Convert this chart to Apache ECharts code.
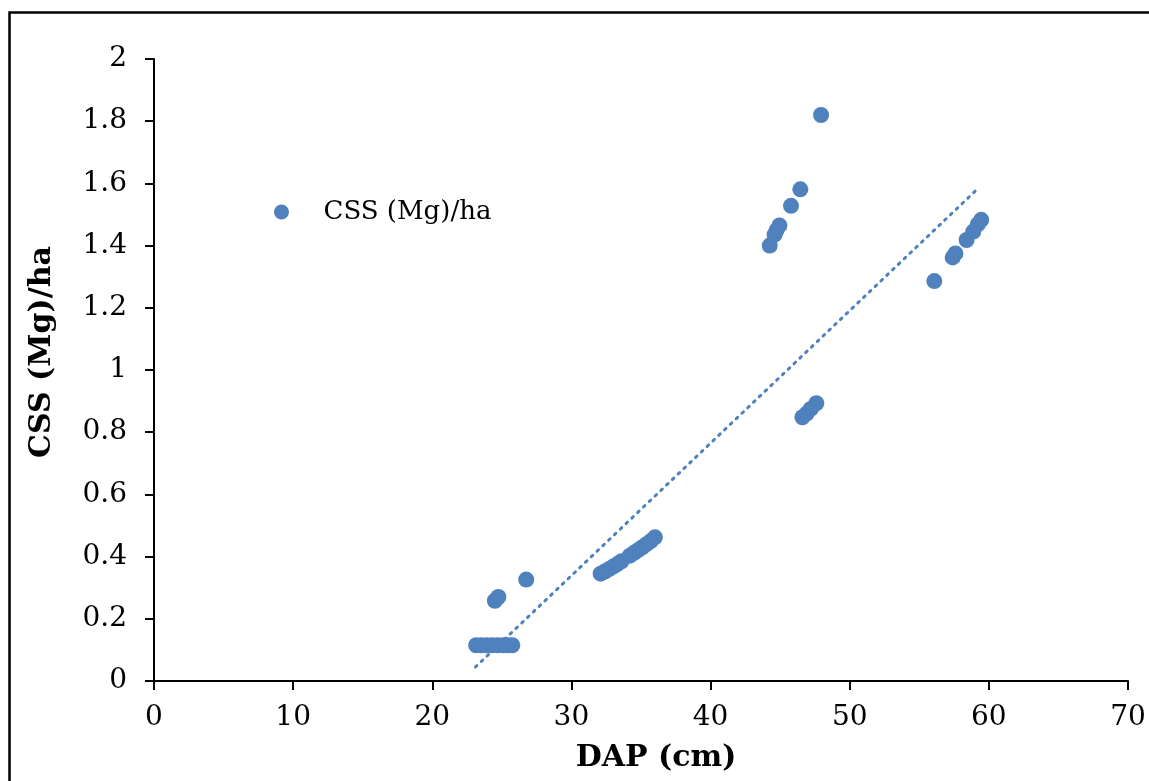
<!DOCTYPE html>
<html>
<head>
<meta charset="utf-8">
<script src="https://cdn.jsdelivr.net/npm/echarts@6/dist/echarts.min.js"></script>
<style>
html,body{margin:0;padding:0;background:#fff;}
#chart{width:1149px;height:781px;}
</style>
</head>
<body>
<div id="chart"></div>
<script>
// DAP (cm) values
const dap = [
  23.15, 23.5, 23.9, 24.3, 24.7, 25.1, 25.45, 25.75,
  24.5, 24.75,
  26.75,
  32.1, 32.4, 32.7, 33.0, 33.3, 33.6, 34.2, 34.5, 34.8, 35.1, 35.4, 35.7, 36.0,
  44.25, 44.6, 44.75, 44.95, 45.78, 46.45, 47.94,
  46.6, 46.9, 47.2, 47.6,
  56.08, 57.4, 57.6, 58.4, 58.88, 59.2, 59.45
];
// CSS (Mg)/ha values
const css = [
  0.115, 0.115, 0.115, 0.115, 0.115, 0.115, 0.115, 0.115,
  0.258, 0.27,
  0.326,
  0.345, 0.352, 0.36, 0.368, 0.376, 0.385, 0.403, 0.412, 0.421, 0.43, 0.44, 0.45, 0.462,
  1.40, 1.435, 1.45, 1.465, 1.528, 1.581, 1.82,
  0.848, 0.86, 0.875, 0.893,
  1.286, 1.362, 1.375, 1.418, 1.445, 1.468, 1.483
];
// linear trendline end points
const trendX = [23.1, 59.25];
const trendY = [0.045, 1.585];
const xTicks = [0, 10, 20, 30, 40, 50, 60, 70];
const yTicks = [0, 0.2, 0.4, 0.6, 0.8, 1, 1.2, 1.4, 1.6, 1.8, 2];
const seriesName = 'CSS (Mg)/ha';
const xName = 'DAP (cm)';
const yName = 'CSS (Mg)/ha';

const points = dap.map((x, i) => [x, css[i]]);
const trend = trendX.map((x, i) => [x, trendY[i]]);

const font = 'DejaVu Serif';
const chart = echarts.init(document.getElementById('chart'));
chart.setOption({
  backgroundColor: '#fff',
  animation: false,
  graphic: [{
    type: 'rect', left: 7, top: 10, silent: true,
    shape: { x: 0, y: 0, width: 1200, height: 900 },
    style: { fill: 'none', stroke: '#000', lineWidth: 2.5 }
  }],
  grid: { left: 154, right: 21, top: 59, bottom: 100, containLabel: false },
  legend: {
    left: 269, top: 194, itemWidth: 74, itemHeight: 15, icon: 'circle',
    data: [seriesName],
    textStyle: { fontFamily: font, fontSize: 26, color: '#000' }
  },
  xAxis: {
    type: 'value', min: xTicks[0], max: xTicks[xTicks.length - 1], interval: 10,
    name: xName, nameLocation: 'middle', nameGap: 62,
    nameTextStyle: { fontFamily: font, fontSize: 30, fontWeight: 'bold', color: '#000', padding: [0, 0, 0, 30] },
    axisLine: { lineStyle: { color: '#000', width: 2 } },
    axisTick: { show: true, inside: false, length: 9, lineStyle: { color: '#000', width: 2 } },
    axisLabel: { fontFamily: font, fontSize: 28, color: '#000', margin: 23 },
    splitLine: { show: false }
  },
  yAxis: {
    type: 'value', min: yTicks[0], max: yTicks[yTicks.length - 1], interval: 0.2,
    name: yName, nameLocation: 'middle', nameGap: 97, nameRotate: 90,
    nameTextStyle: { fontFamily: font, fontSize: 30, fontWeight: 'bold', color: '#000', padding: [0, 0, 0, 36] },
    axisLine: { show: true, lineStyle: { color: '#000', width: 2 } },
    axisTick: { show: true, inside: false, length: 9, lineStyle: { color: '#000', width: 2 } },
    axisLabel: { fontFamily: font, fontSize: 28, color: '#000', margin: 27 },
    splitLine: { show: false }
  },
  series: [
    {
      name: seriesName, type: 'scatter', data: points, symbol: 'circle', symbolSize: 16,
      itemStyle: { color: '#4f81bd', opacity: 1 }, z: 3
    },
    {
      name: 'trend', type: 'line', data: trend, showSymbol: false, symbol: 'none',
      lineStyle: { color: '#4f81bd', width: 3, type: [2, 6], cap: 'round' }, z: 2, silent: true
    }
  ]
});
</script>
</body>
</html>
